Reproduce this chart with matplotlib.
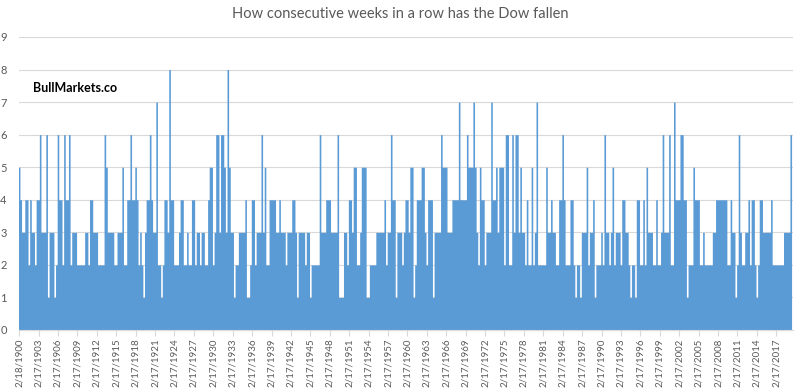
import numpy as np
import pandas as pd
import matplotlib
matplotlib.use("Agg")
import matplotlib.pyplot as plt

# Highest "weeks in a row down" reached in each quarter
# (one digit per quarter, starting Q1 1900)
q_1900_1923 = ("543344243324" "463336133312" "644264462333" "222223324433"
               "322226533332" "233352244644" "542321344643" "372212443844")
q_1924_1947 = ("222344223224" "423323322455" "236636653853" "312233334112"
               "442333635224" "444334333233" "344313333233" "122222633344")
q_1948_1971 = ("433336111332" "443552235551" "122223333342" "336441333234"
               "435512444553" "244413333655" "533344447444" "465557532544")
q_1972_1995 = ("233374453555" "266226366353" "324225237222" "225334332244"
               "642224421221" "333523341222" "326332352333" "244332122144")
q_1996_2019 = ("224253332242" "236333622744" "466441222544" "422322222334"
               "444444224331" "263223342442" "124433333422" "2222233336")

tick_years = list(range(1900, 2018, 3))
tick_labels = ["2/18/1900"] + [f"2/17/{y}" for y in tick_years[1:]]

weeks = [int(c) for c in q_1900_1923 + q_1924_1947 + q_1948_1971 + q_1972_1995 + q_1996_2019]
dates = pd.date_range("1900-01-01", periods=len(weeks) + 1, freq="QS")
vals = weeks + [weeks[-1]]

plt.rcParams["font.family"] = ["Lato", "DejaVu Sans"]
grey = "#595959"

fig = plt.figure(figsize=(8, 3.89), dpi=100)
ax = fig.add_axes([0.024, 0.1517, 0.9675, 0.7532])

ax.fill_between(dates, vals, step="post", color="#5B9BD5", linewidth=0)

ax.set_ylim(0, 9)
ax.set_yticks(range(10))
ax.set_xlim(pd.Timestamp("1900-02-18"), pd.Timestamp("2019-10-01"))
ticks = [pd.Timestamp("1900-02-18")] + [pd.Timestamp(f"{y}-02-17") for y in tick_years[1:]]
ax.set_xticks(ticks)
ax.set_xticklabels(tick_labels, rotation=90, fontsize=7, color=grey)
ax.tick_params(axis="x", length=4, color="#D9D9D9", pad=2)
ax.tick_params(axis="y", length=0, labelsize=8, labelcolor=grey, pad=9)

ax.grid(axis="y", color="#D9D9D9", linewidth=0.8)
ax.set_axisbelow(True)
for s in ["top", "right", "left"]:
    ax.spines[s].set_visible(False)
ax.spines["bottom"].set_color("#D9D9D9")

fig.text(0.5, 0.963, "How consecutive weeks in a row has the Dow fallen",
         ha="center", va="center", fontsize=10.5, color=grey)
fig.text(0.041, 0.774, "BullMarkets.co", ha="left", va="center",
         fontsize=9, fontweight="bold", color="black")

fig.savefig("out.png", dpi=100)
